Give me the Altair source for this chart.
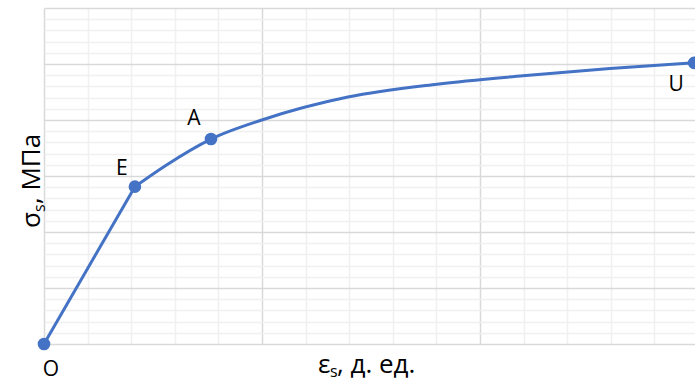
import altair as alt
import pandas as pd

# Stress-strain diagram of reinforcing steel (relative units of the grid)
# elastic part O-E is straight, E-U is the curved plastic part
elastic_strain = [0, 0.417]
elastic_stress = [0, 2.81]
plastic_strain = [0.417, 0.555, 0.766, 0.999, 1.394, 1.803, 2.197, 2.596, 2.982]
plastic_stress = [2.81, 3.18, 3.66, 4.00, 4.41, 4.64, 4.79, 4.92, 5.02]

# characteristic points of the diagram
point_names = ["O", "E", "A", "U"]
point_strain = [0, 0.417, 0.766, 2.982]
point_stress = [0, 2.81, 3.66, 5.02]
label_dx = [7, -13, -17, -18]
label_dy = [26, -18, -20, 22]

x_ticks = [round(i * 0.2, 1) for i in range(15)]
y_ticks = [round(i * 0.2, 1) for i in range(31)]

BLUE = "#4472C4"
FONT = "Open Sans"
MAJOR = "#d9d9d9"
MINOR = "#f0f0f0"

elastic = pd.DataFrame({"strain": elastic_strain, "stress": elastic_stress})
plastic = pd.DataFrame({"strain": plastic_strain, "stress": plastic_stress})
points = pd.DataFrame({"name": point_names, "strain": point_strain,
                       "stress": point_stress})

major_test = "abs(datum.value - round(datum.value)) < 1e-6"
grid_color = {"condition": {"test": major_test, "value": MAJOR}, "value": MINOR}

x_enc = alt.X("strain:Q",
              scale=alt.Scale(domain=[0, 2.986], nice=False, zero=True),
              axis=alt.Axis(values=x_ticks, tickCount=100, labels=False, ticks=False,
                            domain=False, title=None, gridWidth=1.5,
                            gridColor=grid_color))
y_enc = alt.Y("stress:Q",
              scale=alt.Scale(domain=[0, 6], nice=False),
              axis=alt.Axis(values=y_ticks, tickCount=100, labels=False, ticks=False,
                            domain=False, title=None, gridWidth=1.5,
                            gridColor=grid_color))

line_elastic = alt.Chart(elastic).mark_line(color=BLUE, strokeWidth=3).encode(
    x=x_enc, y=y_enc)
line_plastic = alt.Chart(plastic).mark_line(
    interpolate="monotone", color=BLUE, strokeWidth=3).encode(x="strain:Q", y="stress:Q")

dots = alt.Chart(points).mark_circle(size=160, color=BLUE, opacity=1).encode(
    x="strain:Q", y="stress:Q")

labels = []
for name, dx, dy in zip(point_names, label_dx, label_dy):
    labels.append(
        alt.Chart(points).transform_filter(alt.datum.name == name).mark_text(
            font=FONT, fontSize=21, color="#000000", dx=dx, dy=dy,
            align="center", baseline="middle").encode(
            x="strain:Q", y="stress:Q", text="name:N"))


# axis titles with a subscript "s"
def title_piece(text, x, y, size, angle=0):
    return alt.Chart(pd.DataFrame({"t": [text]})).mark_text(
        font=FONT, fontSize=size, color="#000000", align="left",
        baseline="alphabetic", angle=angle).encode(
        x=alt.value(x), y=alt.value(y), text="t:N")


x_title = [
    title_piece("ε", 274, 365, 26),
    title_piece("s", 286, 369, 16),
    title_piece(", д. ед.", 293, 365, 26),
]
y_title = [
    title_piece("σ", -4, 220, 26, 270),
    title_piece("s", 1, 204, 16, 270),
    title_piece(", МПа", -4, 196, 26, 270),
]

chart = alt.layer(line_elastic, line_plastic, dots, *labels, *x_title, *y_title).properties(
    width=651, height=336,
    autosize=alt.AutoSizeParams(type="none"),
    padding={"left": 44, "top": 8, "right": 0, "bottom": 39},
    background="white",
).configure_view(stroke=None)

chart.save("out.html", embed_options={"renderer": "svg", "actions": False})
